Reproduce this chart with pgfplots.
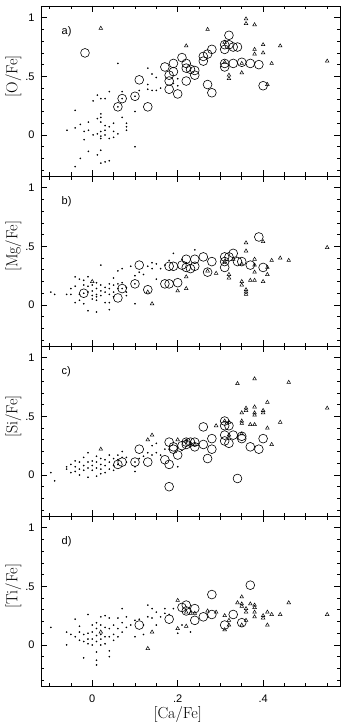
\documentclass[border=0pt]{standalone}
\usepackage{fontspec}
\usepackage{pgfplots}
\pgfplotsset{compat=1.18}
\usepgfplotslibrary{groupplots}
\newfontfamily\sansf{Liberation Sans}

\pgfplotsset{
  dots/.style={only marks,mark=*,mark size=0.6pt,black},
  circs/.style={only marks,mark=o,mark size=4.4pt,black,mark options={line width=0.6pt}},
  tris/.style={only marks,mark=triangle,mark size=2.1pt,black,mark options={line width=0.5pt}},
  panel/.style={
    scale only axis,width=299pt,height=170pt,
    xmin=-0.12,xmax=0.58,ymin=-0.35,ymax=1.1,
    xtick={0,0.2,0.4},xticklabels={0,.2,.4},
    ytick={0,0.5,1},yticklabels={0,.5,1},
    minor xtick={-0.1,-0.05,...,0.56},
    minor ytick={-0.3,-0.2,...,1.05},
    major tick length=6pt,minor tick length=3.5pt,
    tick style={black,line width=0.7pt},
    axis line style={line width=0.8pt},
    tick label style={font=\sansf\fontsize{11}{11}\selectfont},
    /pgf/number format/assume math mode=true,
    yticklabel style={xshift=-3pt},
    xticklabel style={yshift=-5pt},
    ylabel style={at={(axis description cs:-0.0535,0.586)},rotate=0,anchor=south,
      font=\fontsize{16}{16}\selectfont},
    xlabel style={at={(axis description cs:0.457,0)},anchor=north,yshift=-17pt,
      font=\fontsize{16}{16}\selectfont},
  },
}

\begin{document}
\begin{tikzpicture}
\begin{groupplot}[group style={group size=1 by 4,vertical sep=0pt,
    xticklabels at=edge bottom},panel]
%% a) [O/Fe]
\nextgroupplot[ylabel={[O/Fe]}]
\addplot[dots] coordinates {
(-0.059,0.04) (-0.04,0.21) (-0.04,0.06) (-0.028,0.09) (-0.028,-0.20) (-0.04,-0.27)
(-0.019,0.03) (-0.019,-0.04) (-0.009,0.11) (-0.009,0.04) (-0.009,-0.14)
(0.002,0.29) (0.002,0.0) (0.012,0.34) (0.012,0.14) (0.012,0.01) (0.012,-0.17)
(0.02,0.31) (0.02,0.18) (0.02,0.15) (0.02,0.11) (0.02,0.03) (0.02,-0.01) (0.02,-0.03)
(0.02,-0.13) (0.02,-0.24) (0.03,0.31) (0.03,0.08) (0.03,0.04) (0.03,0.0) (0.03,-0.23)
(0.04,0.37) (0.04,0.07) (0.04,-0.03) (0.04,-0.22) (0.05,0.10) (0.05,0.03) (0.05,-0.02)
(0.06,0.61) (0.06,0.01) (0.06,0.24) (0.07,0.37) (0.07,0.15) (0.07,0.31)
(0.08,0.10) (0.08,0.07) (0.08,0.04) (0.10,0.20) (0.10,-0.10) (0.10,0.33)
(0.11,0.38) (0.13,0.57) (0.13,0.43) (0.13,0.39) (0.14,0.52) (0.14,0.38)
(0.15,0.49) (0.15,0.38) (0.16,0.40) (0.19,0.44) (0.20,0.48) (0.20,0.42)
};
\addplot[circs] coordinates {
(-0.017,0.70) (0.06,0.24) (0.07,0.31) (0.10,0.33) (0.11,0.47) (0.13,0.24)
(0.17,0.58) (0.18,0.51) (0.18,0.46) (0.18,0.39) (0.19,0.61) (0.19,0.54) (0.20,0.35)
(0.21,0.66) (0.22,0.61) (0.22,0.46) (0.22,0.57) (0.23,0.56) (0.24,0.55) (0.24,0.51)
(0.26,0.63) (0.26,0.67) (0.27,0.69) (0.27,0.43) (0.28,0.36) (0.28,0.73)
(0.31,0.77) (0.31,0.73) (0.31,0.61) (0.31,0.58) (0.32,0.85) (0.32,0.77)
(0.33,0.75) (0.33,0.61) (0.34,0.75) (0.35,0.62) (0.37,0.61) (0.39,0.60) (0.40,0.42)
};
\addplot[tris] coordinates {
(0.02,0.91) (0.22,0.76) (0.27,0.90) (0.31,0.79) (0.31,0.62) (0.32,0.51) (0.32,0.48)
(0.35,0.61) (0.35,0.53) (0.36,0.99) (0.36,0.95) (0.38,0.94) (0.38,0.73) (0.38,0.69)
(0.40,0.77) (0.40,0.70) (0.41,0.43) (0.42,0.61) (0.44,0.76) (0.55,0.63)
};
\node[anchor=west,inner sep=0pt,font=\sansf\fontsize{11}{11}\selectfont] at (axis cs:-0.072,0.88) {a)};
%% b) [Mg/Fe]
\nextgroupplot[ylabel={[Mg/Fe]}]
\addplot[dots] coordinates {
(-0.097,0.11) (-0.088,0.09) (-0.06,0.09) (-0.05,0.14) (-0.05,0.09) (-0.04,0.24)
(-0.04,0.16) (-0.04,0.02) (-0.03,0.22) (-0.03,0.09) (-0.03,0.04) (-0.02,0.21)
(-0.02,0.17) (-0.02,0.01) (-0.01,0.24) (-0.01,0.16) (-0.01,0.11) (-0.01,-0.05)
(0.0,0.17) (0.0,0.12) (0.0,0.08) (0.0,0.05) (0.01,0.19) (0.01,0.14) (0.01,0.09)
(0.01,0.07) (0.01,0.04) (0.01,-0.06) (0.02,0.34) (0.02,0.17) (0.02,0.12) (0.02,0.08)
(0.03,0.15) (0.03,0.11) (0.03,0.02) (0.04,0.18) (0.04,0.14) (0.04,0.09) (0.04,0.02)
(0.04,-0.04) (0.05,0.23) (0.05,0.17) (0.05,0.11) (0.05,0.07) (0.06,0.29) (0.06,0.18)
(0.06,0.14) (0.07,0.31) (0.07,0.19) (0.08,0.15) (0.08,0.11) (0.08,0.08) (0.09,0.33)
(0.10,0.01) (0.10,0.25) (0.11,0.28) (0.12,0.26) (0.13,0.33) (0.14,0.36) (0.14,0.31)
(0.15,0.35) (0.15,0.22) (0.16,0.31) (0.17,0.34) (0.18,0.38) (0.19,0.44) (0.21,0.39)
(0.22,0.36) (0.24,0.47) (-0.02,0.10) (0.07,0.14) (0.10,0.18)
};
\addplot[circs] coordinates {
(-0.02,0.10) (0.06,0.06) (0.07,0.14) (0.10,0.18) (0.11,0.34) (0.13,0.13)
(0.17,0.18) (0.18,0.18) (0.18,0.33) (0.19,0.33) (0.20,0.19) (0.21,0.34) (0.22,0.39)
(0.22,0.32) (0.23,0.31) (0.24,0.33) (0.24,0.39) (0.26,0.41) (0.27,0.28) (0.28,0.37)
(0.31,0.41) (0.31,0.37) (0.31,0.32) (0.32,0.41) (0.33,0.44) (0.34,0.37) (0.35,0.37)
(0.37,0.34) (0.39,0.58) (0.40,0.32)
};
\addplot[tris] coordinates {
(0.0,0.20) (0.13,0.11) (0.14,0.01) (0.20,0.12) (0.22,0.14) (0.22,0.24) (0.27,0.29)
(0.29,0.27) (0.32,0.26) (0.32,0.23) (0.31,0.37) (0.33,0.39) (0.35,0.20) (0.35,0.17)
(0.35,0.35) (0.36,0.53) (0.36,0.46) (0.36,0.13) (0.36,0.11) (0.36,0.09) (0.37,0.21)
(0.38,0.21) (0.38,0.39) (0.38,0.28) (0.38,0.34) (0.40,0.54) (0.40,0.20) (0.41,0.32)
(0.41,0.26) (0.42,0.38) (0.44,0.40) (0.46,0.38) (0.55,0.49)
};
\node[anchor=west,inner sep=0pt,font=\sansf\fontsize{11}{11}\selectfont] at (axis cs:-0.072,0.88) {b)};
%% c) [Si/Fe]
\nextgroupplot[ylabel={[Si/Fe]}]
\addplot[dots] coordinates {
(-0.097,0.02) (-0.088,-0.05) (-0.06,0.07) (-0.06,0.05) (-0.05,0.09) (-0.05,0.02)
(-0.04,0.12) (-0.04,0.07) (-0.04,0.03) (-0.03,0.11) (-0.03,0.05) (-0.03,0.0)
(-0.02,0.15) (-0.02,0.08) (-0.02,0.04) (-0.01,0.19) (-0.01,0.11) (-0.01,0.06)
(-0.01,-0.02) (0.0,0.12) (0.0,0.08) (0.0,0.04) (0.01,0.16) (0.01,0.11) (0.01,0.06)
(0.01,-0.01) (0.02,0.14) (0.02,0.09) (0.02,0.05) (0.02,0.01) (0.03,0.13) (0.03,0.08)
(0.03,0.02) (0.04,0.17) (0.04,0.11) (0.04,0.05) (0.05,0.14) (0.05,0.08) (0.05,0.04)
(0.06,0.17) (0.06,0.13) (0.06,0.09) (0.07,0.20) (0.07,0.15) (0.08,0.15) (0.08,0.11)
(0.10,0.03) (0.10,0.07) (0.11,0.14) (0.12,0.16) (0.13,0.19) (0.14,0.17) (0.14,0.25)
(0.15,0.19) (0.15,0.27) (0.16,0.17) (0.17,0.22) (0.18,0.22) (0.20,0.07) (0.21,0.21)
(0.10,0.11) (0.06,0.09)
};
\addplot[circs] coordinates {
(0.06,0.09) (0.07,0.11) (0.10,0.11) (0.11,0.22) (0.13,0.11) (0.17,0.13) (0.18,0.28)
(0.18,0.09) (0.18,-0.10) (0.19,0.24) (0.19,0.22) (0.20,0.17) (0.21,0.25) (0.22,0.26)
(0.22,0.28) (0.23,0.28) (0.24,0.28) (0.24,0.24) (0.26,0.41) (0.26,0.26) (0.27,0.14)
(0.28,0.31) (0.28,0.22) (0.31,0.46) (0.31,0.42) (0.31,0.34) (0.31,0.29) (0.32,0.42)
(0.32,0.27) (0.33,0.34) (0.34,-0.03) (0.35,0.33) (0.35,0.31) (0.37,0.24) (0.39,0.22)
(0.40,0.31)
};
\addplot[tris] coordinates {
(0.02,0.22) (0.13,0.30) (0.14,0.34) (0.20,0.30) (0.22,0.29) (0.23,0.27) (0.24,0.26)
(0.29,0.42) (0.31,0.46) (0.32,0.45) (0.32,0.34) (0.34,0.78) (0.35,0.53) (0.35,0.46)
(0.35,0.44) (0.35,0.35) (0.36,0.57) (0.36,0.55) (0.37,0.43) (0.38,0.82) (0.38,0.58)
(0.38,0.53) (0.38,0.51) (0.38,0.43) (0.40,0.55) (0.40,0.53) (0.41,0.62) (0.41,0.40)
(0.42,0.26) (0.44,0.45) (0.46,0.79) (0.55,0.57)
};
\node[anchor=west,inner sep=0pt,font=\sansf\fontsize{11}{11}\selectfont] at (axis cs:-0.072,0.88) {c)};
%% d) [Ti/Fe]
\nextgroupplot[ylabel={[Ti/Fe]},xlabel={[Ca/Fe]}]
\addplot[dots] coordinates {
(-0.097,0.15) (-0.06,0.11) (-0.06,0.0) (-0.05,0.09) (-0.04,0.22) (-0.04,0.07)
(-0.03,0.16) (-0.03,0.11) (-0.03,0.04) (-0.02,0.09) (-0.02,0.03) (-0.02,-0.11)
(-0.01,0.26) (-0.01,0.10) (-0.01,0.05) (-0.01,0.01) (0.0,0.17) (0.0,0.11) (0.0,0.05)
(0.0,0.0) (0.01,0.19) (0.01,0.14) (0.01,0.08) (0.01,0.03) (0.01,-0.06) (0.01,-0.13)
(0.01,-0.17) (0.02,0.24) (0.02,0.17) (0.02,0.09) (0.02,0.05) (0.02,0.0) (0.03,0.25)
(0.03,0.15) (0.03,0.07) (0.03,0.01) (0.04,0.23) (0.04,0.14) (0.04,0.07) (0.04,-0.05)
(0.04,-0.10) (0.05,0.17) (0.05,0.09) (0.05,0.04) (0.06,0.23) (0.06,0.14) (0.06,0.07)
(0.07,0.19) (0.07,0.11) (0.07,0.31) (0.08,0.15) (0.08,0.24) (0.09,0.17) (0.10,0.21)
(0.10,0.07) (0.11,0.22) (0.12,0.17) (0.12,0.09) (0.13,0.24) (0.13,0.34) (0.14,0.31)
(0.14,0.23) (0.15,0.28) (0.15,0.17) (0.16,0.24) (0.17,0.31) (0.17,0.27) (0.18,0.26)
(0.19,0.31) (0.20,0.10) (0.21,0.17) (0.23,0.11)
};
\addplot[circs] coordinates {
(0.11,0.17) (0.18,0.22) (0.21,0.32) (0.22,0.29) (0.22,0.34) (0.24,0.31) (0.24,0.21)
(0.26,0.24) (0.28,0.43) (0.28,0.26) (0.31,0.17) (0.33,0.26) (0.35,0.19) (0.37,0.51)
};
\addplot[tris] coordinates {
(0.02,0.11) (0.13,-0.03) (0.14,0.11) (0.20,0.38) (0.20,0.14) (0.22,0.16) (0.22,0.28)
(0.23,0.27) (0.24,0.27) (0.27,0.29) (0.29,0.28) (0.31,0.25) (0.31,0.13) (0.32,0.17)
(0.32,0.21) (0.34,0.36) (0.35,0.41) (0.35,0.35) (0.35,0.33) (0.35,0.17) (0.36,0.31)
(0.36,0.28) (0.36,0.21) (0.37,0.35) (0.38,0.34) (0.38,0.32) (0.38,0.24) (0.38,0.28)
(0.40,0.25) (0.40,0.23) (0.41,0.28) (0.41,0.17) (0.42,0.26) (0.44,0.26) (0.46,0.36)
(0.55,0.26)
};
\node[anchor=west,inner sep=0pt,font=\sansf\fontsize{11}{11}\selectfont] at (axis cs:-0.072,0.88) {d)};
\end{groupplot}
\pgfresetboundingbox
\path[use as bounding box] (group c1r4.south west) ++(-41pt,-36pt) rectangle ++(347pt,722pt);
\end{tikzpicture}
\end{document}
